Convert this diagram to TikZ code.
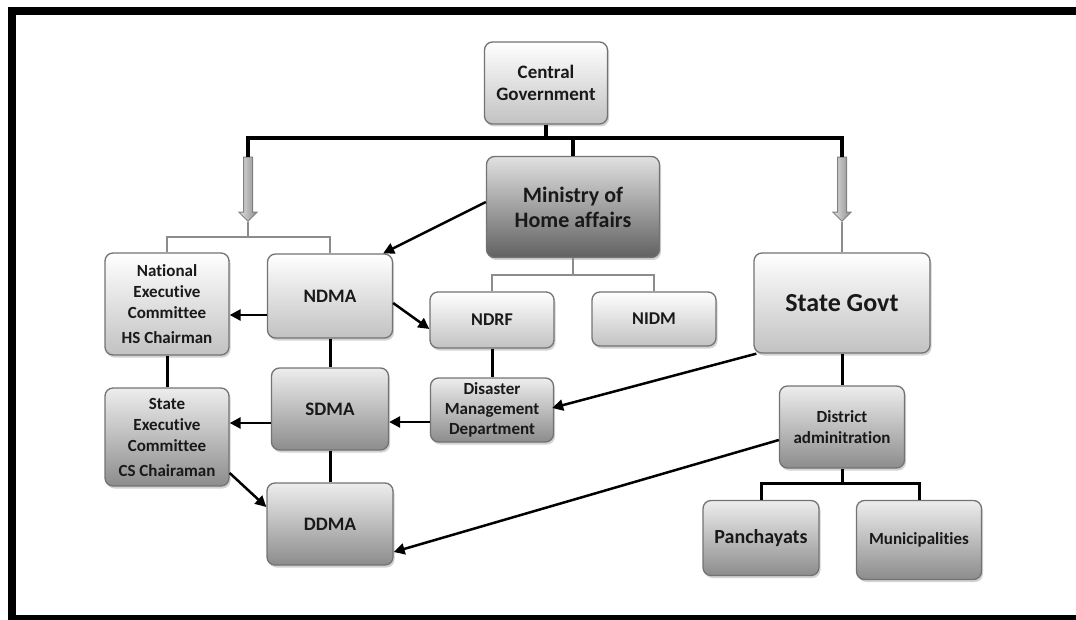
\documentclass[tikz,border=0pt]{standalone}
\usepackage{fontspec}
\setmainfont{Carlito}[Ligatures=NoCommon]
\usetikzlibrary{arrows.meta,shadows,shapes.arrows}

\tikzset{
  box/.style={draw=black!55, line width=1.3pt, rounded corners=8pt, align=center,
    text=black!90, inner sep=2pt,
    drop shadow={shadow xshift=1.5pt, shadow yshift=-2.5pt, opacity=0.35}},
  lightbox/.style={box, top color=white, bottom color=black!24},
  midbox/.style={box, top color=black!7, bottom color=black!45},
  darkbox/.style={box, top color=black!12, bottom color=black!62},
  bus/.style={draw=black, line width=3.5pt},
  link/.style={draw=black, line width=3pt},
  tree/.style={draw=black!45, line width=2pt},
  arr/.style={draw=black, line width=2.5pt, -{Triangle[length=11pt,width=11pt]}},
  blockarrow/.style={single arrow, shape border rotate=270, draw=black!50, line width=1pt,
    left color=black!12, right color=black!45, minimum height=64pt, inner sep=4pt,
    single arrow head extend=4.5pt},
}

\begin{document}
\begin{tikzpicture}[x=1pt, y=-1pt]
    \useasboundingbox (0,0) rectangle (1076,620);
    \clip (0,0) rectangle (1076,620);
    \draw[line width=8pt] (1090,11) -- (12,11) -- (12,619) -- (1090,619);

    \node[lightbox, minimum width=123pt, minimum height=82pt, font=\bfseries\fontsize{19}{22}\selectfont] (cgov) at (546,83) {Central\\Government};
    \node[darkbox, minimum width=173pt, minimum height=101pt, font=\bfseries\fontsize{22}{25}\selectfont] (mha) at (573,207) {Ministry of\\Home affairs};
    \node[blockarrow] (larr) at (248,187) {};
    \node[blockarrow] (rarr) at (842,187) {};

    \node[lightbox, minimum width=124pt, minimum height=102pt, font=\bfseries\fontsize{17}{21}\selectfont] (nec) at (167,304) {National\\Executive\\Committee\\[4pt]HS Chairman};
    \node[lightbox, minimum width=125pt, minimum height=84pt, font=\bfseries\fontsize{19}{22}\selectfont] (ndma) at (330,296) {NDMA};
    \node[lightbox, minimum width=124pt, minimum height=56pt, font=\bfseries\fontsize{18}{22}\selectfont] (ndrf) at (492,320) {NDRF};
    \node[lightbox, minimum width=124pt, minimum height=54pt, font=\bfseries\fontsize{18}{22}\selectfont] (nidm) at (654,319) {NIDM};
    \node[lightbox, minimum width=176pt, minimum height=100pt, font=\bfseries\fontsize{26}{30}\selectfont] (sgov) at (842,303) {State Govt};

    \node[midbox, minimum width=124pt, minimum height=98pt, font=\bfseries\fontsize{17}{21}\selectfont] (sec) at (167,437) {State\\Executive\\Committee\\[4pt]CS Chairaman};
    \node[midbox, minimum width=117pt, minimum height=82pt, font=\bfseries\fontsize{19}{22}\selectfont] (sdma) at (330,409) {SDMA};
    \node[midbox, minimum width=123pt, minimum height=64pt, font=\bfseries\fontsize{17}{20}\selectfont] (dmd) at (492,410) {Disaster\\Management\\Department};
    \node[midbox, minimum width=126pt, minimum height=82pt, font=\bfseries\fontsize{19}{22}\selectfont] (ddma) at (330,524) {DDMA};
    \node[midbox, minimum width=125pt, minimum height=82pt, font=\bfseries\fontsize{17}{21}\selectfont] (dist) at (842,427) {District\\adminitration};
    \node[midbox, minimum width=116pt, minimum height=75pt, font=\bfseries\fontsize{20}{24}\selectfont] (panch) at (761,538) {Panchayats};
    \node[midbox, minimum width=125pt, minimum height=79pt, font=\bfseries\fontsize{17}{21}\selectfont] (muni) at (919,540) {Municipalities};

    \coordinate (busl) at (248,138);
    \coordinate (busr) at (842,138);
    \draw[bus] (cgov.south) -- (cgov.south |- busl);
    \draw[bus] (larr.north) |- (busr) -- (rarr.north);
    \draw[bus] (mha.north) -- (mha.north |- busl);

    \coordinate (ljoin) at (248,237);
    \coordinate (mjoin) at (573,275);
    \draw[tree] (larr.south) -- (ljoin);
    \draw[tree] (nec.north) |- (ljoin) -| (ndma.north);
    \draw[tree] (mha.south) -- (mjoin);
    \draw[tree] (ndrf.north) |- (mjoin) -| (nidm.north);
    \draw[tree] (rarr.south) -- (sgov.north);

    \coordinate (djoin) at (842,483);
    \draw[link] (ndma) -- (sdma);
    \draw[link] (sdma) -- (ddma);
    \draw[link] (nec) -- (sec);
    \draw[link] (ndrf) -- (dmd);
    \draw[link] (sgov) -- (dist);
    \draw[link] (dist.south) -- (djoin);
    \draw[link] (panch.north) |- (djoin) -| (muni.north);

    \draw[arr] ([yshift=5pt]mha.west) -- ([xshift=-10pt]ndma.north east);
    \draw[arr] ([yshift=-19pt]ndma.west) -- ([yshift=-11pt]nec.east);
    \draw[arr] ([yshift=-7pt]ndma.east) -- ([yshift=-9pt]ndrf.west);
    \draw[arr] ([yshift=-14pt]sdma.west) -- ([yshift=14pt]sec.east);
    \draw[arr] ([yshift=-12pt]dmd.west) -- ([yshift=-13pt]sdma.east);
    \draw[arr] ([xshift=3pt]sgov.south west) -- ([xshift=-2pt, yshift=2pt]dmd.east);
    \draw[arr] ([yshift=-36pt]sec.east) -- ([yshift=17pt]ddma.west);
    \draw[arr] ([yshift=-13pt]dist.west) -- ([yshift=-28pt]ddma.east);
\end{tikzpicture}
\end{document}
